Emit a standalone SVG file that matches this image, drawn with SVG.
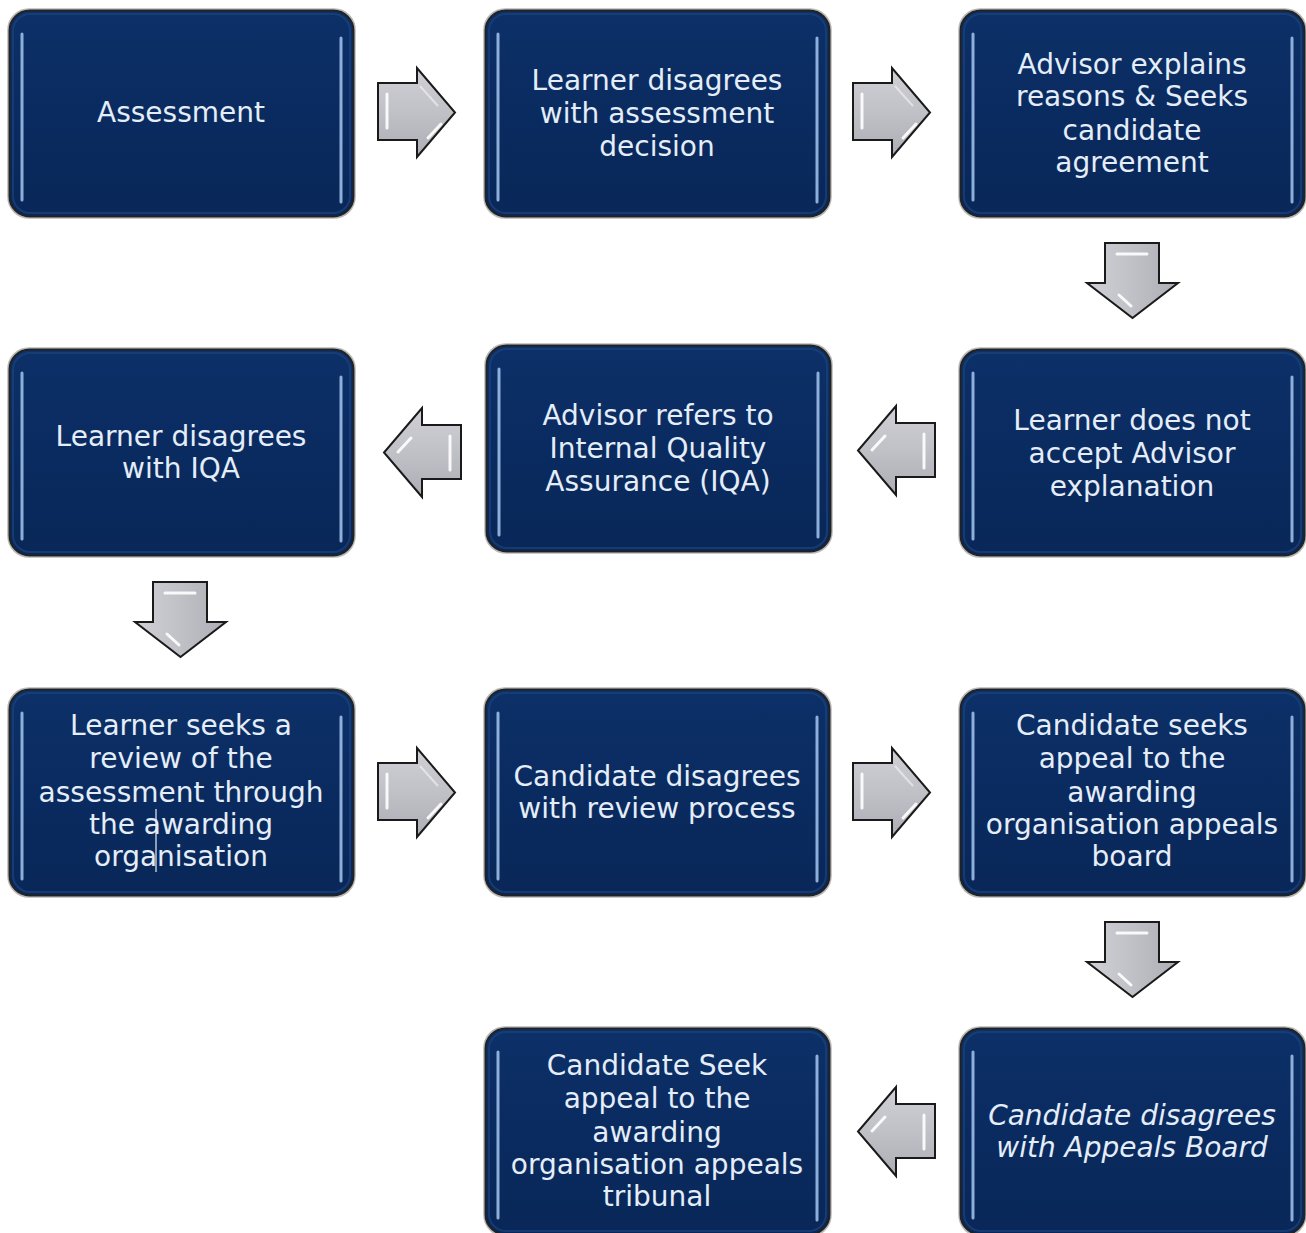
<svg xmlns="http://www.w3.org/2000/svg" width="1306" height="1233" viewBox="0 0 1306 1233">
<defs>
<style>
.t{font-family:"DejaVu Sans","Liberation Sans",sans-serif;font-size:28px;fill:#e4edf8;text-anchor:middle}
.it{font-style:italic}
.ah{stroke:#ffffff;stroke-width:3;stroke-linecap:round;fill:none;opacity:0.9}
.cursor{stroke:#e4edf8;stroke-width:1.2}
</style>
<linearGradient id="boxFill" x1="0" y1="0" x2="0" y2="1">
<stop offset="0" stop-color="#0c3068"/>
<stop offset="0.5" stop-color="#0a2b60"/>
<stop offset="1" stop-color="#092758"/>
</linearGradient>
<linearGradient id="arrFillH" x1="0" y1="0" x2="0" y2="1">
<stop offset="0" stop-color="#d0d0d6"/>
<stop offset="0.5" stop-color="#c0c0c7"/>
<stop offset="1" stop-color="#adadb5"/>
</linearGradient>
<linearGradient id="arrFillV" x1="0" y1="0" x2="1" y2="0">
<stop offset="0" stop-color="#d0d0d6"/>
<stop offset="0.5" stop-color="#c0c0c7"/>
<stop offset="1" stop-color="#adadb5"/>
</linearGradient>
<symbol id="box" overflow="visible">
<rect x="-1" y="-1" width="347" height="209" rx="21" fill="none" stroke="#9a9a9a" stroke-width="1.5" opacity="0.7"/>
<rect x="0.5" y="0.5" width="344" height="206" rx="20" fill="url(#boxFill)" stroke="#222222" stroke-width="2"/>
<rect x="4" y="4" width="337" height="199" rx="17" fill="none" stroke="#1c437c" stroke-width="2" opacity="0.7"/>
<line x1="13" y1="24" x2="13" y2="190" stroke="#9dbde8" stroke-width="3" stroke-linecap="round" opacity="0.9"/>
<line x1="332" y1="28" x2="332" y2="192" stroke="#9dbde8" stroke-width="3" stroke-linecap="round" opacity="0.9"/>
</symbol>
<symbol id="arrR" overflow="visible">
<path d="M0,15 H39 V0 L77,44.5 L39,89 V72 H0 Z" fill="url(#arrFillH)" stroke="#1a1a1a" stroke-width="2" stroke-linejoin="miter"/>
<path class="ah" d="M9,26 V60" opacity="0.85"/>
<path class="ah" d="M50,70 L63,56"/>
<path d="M42,18 L60,38" stroke="#ffffff" stroke-width="2" opacity="0.5" fill="none"/>
</symbol>
<symbol id="arrL" overflow="visible">
<path d="M77,17 H38 V0 L0,44.5 L38,89 V71 H77 Z" fill="url(#arrFillH)" stroke="#1a1a1a" stroke-width="2" stroke-linejoin="miter"/>
<path class="ah" d="M66,28 V62" opacity="0.85"/>
<path class="ah" d="M14,44 L27,30"/>
</symbol>
<symbol id="arrD" overflow="visible">
<path d="M18,0 H72 V40 H91 L45.5,75 L0,40 H18 Z" fill="url(#arrFillV)" stroke="#1a1a1a" stroke-width="2" stroke-linejoin="miter"/>
<path class="ah" d="M30,11 H60" opacity="0.85"/>
<path class="ah" d="M32,52 L44,63"/>
</symbol>
</defs>
<rect width="1306" height="1233" fill="#ffffff"/>

<g id="connectors">
<use href="#arrR" x="378" y="68"/>
<use href="#arrR" x="853" y="68"/>
<use href="#arrD" x="1087" y="243"/>
<use href="#arrL" x="858" y="406"/>
<use href="#arrL" x="384" y="408"/>
<use href="#arrD" x="135" y="582"/>
<use href="#arrR" x="378" y="748"/>
<use href="#arrR" x="853" y="748"/>
<use href="#arrD" x="1087" y="922"/>
<use href="#arrL" x="858" y="1087"/>
</g>

<g id="n1">
<use href="#box" x="9" y="10"/>
<text class="t" x="181" y="122">Assessment</text>
</g>
<g id="n2">
<use href="#box" x="485" y="10"/>
<text class="t" x="657" y="90">Learner disagrees</text>
<text class="t" x="657" y="123">with assessment</text>
<text class="t" x="657" y="156">decision</text>
</g>
<g id="n3">
<use href="#box" x="960" y="10"/>
<text class="t" x="1132" y="74">Advisor explains</text>
<text class="t" x="1132" y="106">reasons &amp; Seeks</text>
<text class="t" x="1132" y="140">candidate</text>
<text class="t" x="1132" y="172">agreement</text>
</g>
<g id="n4">
<use href="#box" x="960" y="349"/>
<text class="t" x="1132" y="430">Learner does not</text>
<text class="t" x="1132" y="463">accept Advisor</text>
<text class="t" x="1132" y="496">explanation</text>
</g>
<g id="n5">
<use href="#box" x="486" y="345"/>
<text class="t" x="658" y="425">Advisor refers to</text>
<text class="t" x="658" y="458">Internal Quality</text>
<text class="t" x="658" y="491">Assurance (IQA)</text>
</g>
<g id="n6">
<use href="#box" x="9" y="349"/>
<text class="t" x="181" y="446">Learner disagrees</text>
<text class="t" x="181" y="478">with IQA</text>
</g>
<g id="n7">
<use href="#box" x="9" y="689"/>
<text class="t" x="181" y="735">Learner seeks a</text>
<text class="t" x="181" y="768">review of the</text>
<text class="t" x="181" y="802">assessment through</text>
<text class="t" x="181" y="834">the awarding</text>
<text class="t" x="181" y="866">organisation</text>
<line class="cursor" x1="156" y1="809" x2="156" y2="872"/>
</g>
<g id="n8">
<use href="#box" x="485" y="689"/>
<text class="t" x="657" y="786">Candidate disagrees</text>
<text class="t" x="657" y="818">with review process</text>
</g>
<g id="n9">
<use href="#box" x="960" y="689"/>
<text class="t" x="1132" y="735">Candidate seeks</text>
<text class="t" x="1132" y="768">appeal to the</text>
<text class="t" x="1132" y="802">awarding</text>
<text class="t" x="1132" y="834">organisation appeals</text>
<text class="t" x="1132" y="866">board</text>
</g>
<g id="n10">
<use href="#box" x="960" y="1028"/>
<text class="t it" x="1132" y="1125">Candidate disagrees</text>
<text class="t it" x="1132" y="1157">with Appeals Board</text>
</g>
<g id="n11">
<use href="#box" x="485" y="1028"/>
<text class="t" x="657" y="1075">Candidate Seek</text>
<text class="t" x="657" y="1108">appeal to the</text>
<text class="t" x="657" y="1142">awarding</text>
<text class="t" x="657" y="1174">organisation appeals</text>
<text class="t" x="657" y="1206">tribunal</text>
</g>
</svg>
